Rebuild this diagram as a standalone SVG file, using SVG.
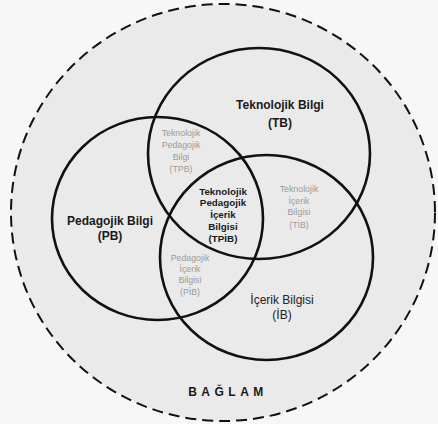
<svg xmlns="http://www.w3.org/2000/svg" width="438" height="424" viewBox="0 0 438 424">
<style>
.ring{fill:none;stroke:#111;stroke-width:2.6}
.big{font-family:"Liberation Sans",Arial,sans-serif;font-size:12px;font-weight:bold;fill:#1a1a1a;text-anchor:middle}
.reg{font-family:"Liberation Sans",Arial,sans-serif;font-size:12px;fill:#222;text-anchor:middle}
.core{font-family:"Liberation Sans",Arial,sans-serif;font-size:9.8px;font-weight:bold;fill:#1a1a1a;text-anchor:middle}
.faint{font-family:"Liberation Sans",Arial,sans-serif;font-size:8.8px;fill:#9a9a9a;text-anchor:middle}
</style>
<rect x="0" y="0" width="438" height="424" fill="#f7f7f7"/>
<g id="baglam">
<ellipse cx="223" cy="212.5" rx="212" ry="208.5" fill="#eaeaea" stroke="#111" stroke-width="2" stroke-dasharray="11 6"/>
<text class="big" x="228" y="396" font-size="11" letter-spacing="4.5">BAĞLAM</text>
</g>
<g id="tb">
<ellipse class="ring" cx="259" cy="153.5" rx="111" ry="105.5"/>
<text class="big" x="280" y="109">Teknolojik Bilgi</text>
<text class="big" x="280" y="127">(TB)</text>
</g>
<g id="pb">
<ellipse class="ring" cx="157.5" cy="218.5" rx="105.5" ry="101.5" stroke-width="3"/>
<text class="big" x="110" y="225">Pedagojik Bilgi</text>
<text class="big" x="110" y="240">(PB)</text>
</g>
<g id="ib">
<ellipse class="ring" cx="266.5" cy="257.5" rx="106.5" ry="102.5"/>
<text class="reg" x="282" y="304">İçerik Bilgisi</text>
<text class="reg" x="282" y="319">(İB)</text>
</g>
<g id="tpb">
<text class="faint" x="181" y="136">Teknolojik</text>
<text class="faint" x="181" y="148">Pedagojik</text>
<text class="faint" x="181" y="160">Bilgi</text>
<text class="faint" x="181" y="172">(TPB)</text>
</g>
<g id="tib">
<text class="faint" x="299" y="192">Teknolojik</text>
<text class="faint" x="299" y="204">İçerik</text>
<text class="faint" x="299" y="215">Bilgisi</text>
<text class="faint" x="299" y="228">(TİB)</text>
</g>
<g id="pib">
<text class="faint" x="190" y="261">Pedagojik</text>
<text class="faint" x="190" y="272">İçerik</text>
<text class="faint" x="190" y="283">Bilgisi</text>
<text class="faint" x="190" y="295">(PİB)</text>
</g>
<g id="tpib">
<text class="core" x="223" y="194.5">Teknolojik</text>
<text class="core" x="223" y="206">Pedagojik</text>
<text class="core" x="223" y="218">İçerik</text>
<text class="core" x="223" y="230">Bilgisi</text>
<text class="core" x="223" y="242">(TPİB)</text>
</g>
</svg>
